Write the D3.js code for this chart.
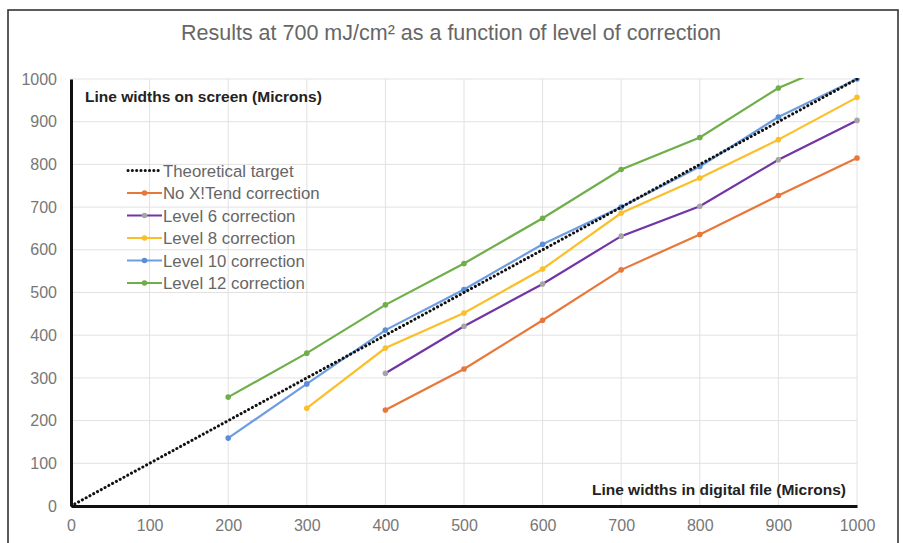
<!DOCTYPE html>
<html><head><meta charset="utf-8">
<script src="https://cdn.jsdelivr.net/npm/d3@7"></script>
<style>body{margin:0;background:#fff;font-family:"Liberation Sans",Arial,sans-serif}</style>
</head><body><svg id="c" width="903" height="543"></svg>
<script>
const xTicks = [0,100,200,300,400,500,600,700,800,900,1000];
const yTicks = [0,100,200,300,400,500,600,700,800,900,1000];
const targetX = [0,1000];
const targetY = [0,1000];
const noCorrX = [400,500,600,700,800,900,1000];
const noCorrY = [225,321,435,553,636,727,815];
const lvl6X = [400,500,600,700,800,900,1000];
const lvl6Y = [311,421,520,632,702,811,903];
const lvl8X = [300,400,500,600,700,800,900,1000];
const lvl8Y = [229,370,452,555,686,768,858,957];
const lvl10X = [200,300,400,500,600,700,800,900,1000];
const lvl10Y = [159,286,412,507,613,700,795,911,1000];
const lvl12X = [200,300,400,500,600,700,800,900,1000];
const lvl12Y = [255,358,471,568,674,788,863,979,1057];
const seriesNames = ["Theoretical target","No X!Tend correction","Level 6 correction","Level 8 correction","Level 10 correction","Level 12 correction"];

const series = [
  {name:seriesNames[0], xs:targetX, ys:targetY, color:"#111", marker:null, dotted:true},
  {name:seriesNames[1], xs:noCorrX, ys:noCorrY, color:"#E8783A", marker:"#E8783A"},
  {name:seriesNames[2], xs:lvl6X, ys:lvl6Y, color:"#7235A6", marker:"#A5A5A5"},
  {name:seriesNames[3], xs:lvl8X, ys:lvl8Y, color:"#FBBF2A", marker:"#FBBF2A"},
  {name:seriesNames[4], xs:lvl10X, ys:lvl10Y, color:"#6E9DE0", marker:"#5A8FD8"},
  {name:seriesNames[5], xs:lvl12X, ys:lvl12Y, color:"#6FAE49", marker:"#6FAE49"}
];

const svg = d3.select("#c");
// outer frame
svg.append("rect").attr("x",8).attr("y",10).attr("width",890).attr("height",560)
  .attr("fill","none").attr("stroke","#333").attr("stroke-width",1.6);

svg.append("text").attr("x",451).attr("y",40).attr("text-anchor","middle")
  .attr("font-size",21.5).attr("fill","#666").text("Results at 700 mJ/cm² as a function of level of correction");

const x = d3.scaleLinear().domain([0,1000]).range([71,857]);
const y = d3.scaleLinear().domain([0,1000]).range([506,79]);

// grid
svg.append("g").selectAll("line").data(xTicks.slice(1)).join("line")
  .attr("x1",d=>x(d)).attr("x2",d=>x(d)).attr("y1",y(0)).attr("y2",y(1000))
  .attr("stroke","#e2e2e2").attr("stroke-width",1);
svg.append("g").selectAll("line").data(yTicks.slice(1)).join("line")
  .attr("x1",x(0)).attr("x2",x(1000)).attr("y1",d=>y(d)).attr("y2",d=>y(d))
  .attr("stroke","#e2e2e2").attr("stroke-width",1);

// axes with d3
const fmt = d3.format("d");
const xAxis = svg.append("g").attr("transform",`translate(0,${y(0)})`)
  .call(d3.axisBottom(x).tickValues(xTicks).tickFormat(fmt).tickSize(0).tickPadding(14));
const yAxis = svg.append("g").attr("transform",`translate(${x(0)},0)`)
  .call(d3.axisLeft(y).tickValues(yTicks).tickFormat(fmt).tickSize(0).tickPadding(14));
[xAxis,yAxis].forEach(a=>{
  a.select(".domain").attr("stroke","#111").attr("stroke-width",3);
  a.selectAll("text").attr("fill","#777").attr("font-size",16).attr("font-family","Liberation Sans, Arial, sans-serif");
});

// clip
svg.append("clipPath").attr("id","pc").append("rect")
  .attr("x",x(0)).attr("y",y(1000)-1).attr("width",x(1000)-x(0)+6).attr("height",y(0)-y(1000)+2);

const line = d3.line().x(d=>x(d[0])).y(d=>y(d[1]));
const plot = svg.append("g").attr("clip-path","url(#pc)");
series.slice(1).forEach(s=>{
  const pts = s.xs.map((v,i)=>[v,s.ys[i]]);
  plot.append("path").attr("d",line(pts)).attr("fill","none").attr("stroke",s.color).attr("stroke-width",2.2);
  plot.append("g").selectAll("circle").data(pts).join("circle")
    .attr("cx",d=>x(d[0])).attr("cy",d=>y(d[1])).attr("r",2.8).attr("fill",s.marker);
});
{
  const s = series[0];
  const pts = s.xs.map((v,i)=>[v,s.ys[i]]);
  plot.append("path").attr("d",line(pts)).attr("fill","none").attr("stroke",s.color)
    .attr("stroke-width",3).attr("stroke-linecap","round").attr("stroke-dasharray","0.1,4.2");
}

// axis titles
svg.append("text").attr("x",85).attr("y",102).attr("font-size",15.5).attr("fill","#222")
  .attr("font-weight","bold").text("Line widths on screen (Microns)");
svg.append("text").attr("x",846).attr("y",495).attr("text-anchor","end").attr("font-size",15.5).attr("fill","#222")
  .attr("font-weight","bold").text("Line widths in digital file (Microns)");

// legend
const lg = svg.append("g");
series.forEach((s,i)=>{
  const yy = 170.5 + i*22.5;
  if (s.dotted) {
    lg.append("line").attr("x1",128).attr("x2",161).attr("y1",yy).attr("y2",yy)
      .attr("stroke",s.color).attr("stroke-width",3).attr("stroke-linecap","round").attr("stroke-dasharray","0.1,4.2");
  } else {
    lg.append("line").attr("x1",127).attr("x2",162).attr("y1",yy).attr("y2",yy)
      .attr("stroke",s.color).attr("stroke-width",2.2);
    lg.append("circle").attr("cx",144.5).attr("cy",yy).attr("r",2.8).attr("fill",s.marker);
  }
  lg.append("text").attr("x",163).attr("y",yy+6).attr("font-size",16.8).attr("fill","#666").text(s.name);
});
</script></body></html>
